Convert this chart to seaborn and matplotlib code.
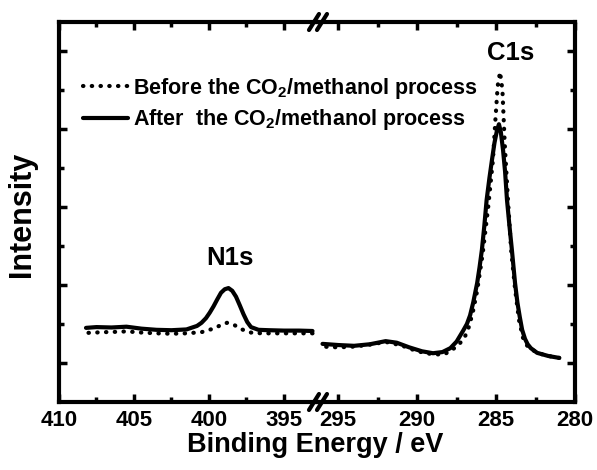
import numpy as np
import pandas as pd
import matplotlib
matplotlib.use("Agg")
import matplotlib.pyplot as plt
from matplotlib.lines import Line2D
from matplotlib.ticker import FixedLocator
import seaborn as sns

# N1s region (left panel), binding energy in eV and intensity (a.u.)
n1s_after_be = [408.2, 407.5, 406.5, 405.5, 404.5, 403.5, 402.5, 401.5, 400.8, 400.5,
                400.2, 399.95, 399.7, 399.45, 399.2, 398.95, 398.7, 398.45, 398.2, 397.95,
                397.7, 397.45, 397.2, 396.7, 396.0, 395.0, 394.0, 393.1]
n1s_after_int = [1.90, 1.92, 1.91, 1.93, 1.88, 1.85, 1.84, 1.86, 1.95, 2.03,
                 2.15, 2.29, 2.45, 2.63, 2.80, 2.89, 2.92, 2.85, 2.70, 2.48,
                 2.25, 2.05, 1.92, 1.85, 1.84, 1.83, 1.83, 1.82]
n1s_before_be = [408.2, 407.0, 406.0, 405.5, 404.5, 403.5, 402.5, 401.5, 400.5, 399.8,
                 399.2, 398.8, 398.3, 397.8, 397.2, 396.5, 395.5, 394.5, 393.1]
n1s_before_int = [1.77, 1.79, 1.80, 1.81, 1.78, 1.76, 1.75, 1.76, 1.79, 1.87,
                  1.97, 2.03, 1.97, 1.86, 1.78, 1.76, 1.76, 1.76, 1.76]

# C1s region (right panel)
c1s_after_be = [296.0, 295.0, 294.0, 293.0, 292.0, 291.3, 290.5, 289.7, 289.0, 288.4,
                287.9, 287.5, 287.1, 286.85, 286.65, 286.45, 286.2, 286.05, 285.9, 285.75,
                285.6, 285.42, 285.26, 285.1, 284.94, 284.82, 284.7, 284.56, 284.43, 284.31,
                284.15, 284.0, 283.8, 283.65, 283.5, 283.35, 283.17, 283.0, 282.8, 282.4,
                281.7, 281.0]
c1s_after_int = [1.49, 1.46, 1.44, 1.48, 1.56, 1.52, 1.40, 1.30, 1.25, 1.28,
                 1.38, 1.55, 1.82, 2.00, 2.22, 2.55, 3.05, 3.45, 3.90, 4.50,
                 5.18, 5.75, 6.21, 6.65, 6.97, 7.12, 6.92, 6.46, 5.90, 5.18,
                 4.50, 3.90, 3.05, 2.55, 2.18, 1.85, 1.62, 1.48, 1.38, 1.26,
                 1.18, 1.13]
c1s_before_be = [296.0, 295.0, 294.0, 293.0, 292.0, 291.0, 290.0, 289.0, 288.3, 287.8,
                 287.3, 286.95, 286.7, 286.45, 286.2, 285.85, 285.5, 285.2, 285.05, 284.9,
                 284.75, 284.6, 284.45, 284.25, 284.05, 283.8, 283.55, 283.3, 283.0, 282.4,
                 281.7, 281.0]
c1s_before_int = [1.42, 1.40, 1.42, 1.47, 1.54, 1.45, 1.30, 1.22, 1.22, 1.33,
                  1.50, 1.70, 1.95, 2.35, 2.85, 3.80, 5.00, 6.20, 7.20, 8.10,
                  8.46, 8.00, 6.60, 5.20, 3.90, 2.90, 2.10, 1.65, 1.42, 1.26,
                  1.18, 1.13]

labels = ['Before the CO$_2$/methanol process', 'After  the CO$_2$/methanol process']
left_ticks = [410, 405, 400, 395]
right_ticks = [295, 290, 285, 280]

sns.set_style('ticks')
plt.rcParams['font.family'] = ['Liberation Sans', 'DejaVu Sans']
plt.rcParams['font.weight'] = 'bold'
plt.rcParams['mathtext.fontset'] = 'custom'
plt.rcParams['mathtext.rm'] = 'Liberation Sans:bold'
plt.rcParams['mathtext.it'] = 'Liberation Sans:bold'
plt.rcParams['mathtext.bf'] = 'Liberation Sans:bold'
plt.rcParams['mathtext.default'] = 'rm'
for k in ('text.color', 'axes.labelcolor', 'xtick.color', 'ytick.color', 'axes.edgecolor'):
    plt.rcParams[k] = 'black'

W, H = 597, 470
fig = plt.figure(figsize=(W / 100, H / 100), dpi=100)
x0, xb, x1 = 59 / W, 317 / W, 575 / W
y0, y1 = 1 - 402 / H, 1 - 22 / H
ax1 = fig.add_axes([x0, y0, xb - x0, y1 - y0])
ax2 = fig.add_axes([xb, y0, x1 - xb, y1 - y0])
ax2.patch.set_visible(False)

dot_style = dict(color='black', linewidth=3, linestyle=(0, (0.1, 2.0)),
                 dash_capstyle='round', solid_capstyle='round')
solid_style = dict(color='black', linewidth=3)

df_n_before = pd.DataFrame({'be': n1s_before_be, 'i': n1s_before_int})
df_n_after = pd.DataFrame({'be': n1s_after_be, 'i': n1s_after_int})
df_c_before = pd.DataFrame({'be': c1s_before_be, 'i': c1s_before_int})
df_c_after = pd.DataFrame({'be': c1s_after_be, 'i': c1s_after_int})

sns.lineplot(data=df_n_before, x='be', y='i', ax=ax1, label=labels[0], **dot_style)
sns.lineplot(data=df_n_after, x='be', y='i', ax=ax1, label=labels[1], **solid_style)
sns.lineplot(data=df_c_before, x='be', y='i', ax=ax2, **dot_style)
sns.lineplot(data=df_c_after, x='be', y='i', ax=ax2, **solid_style)

handles, labs = ax1.get_legend_handles_labels()
ax1.get_legend().remove()

ax1.set_xlim(410, 392.8)
ax2.set_xlim(296.35, 280)
for ax in (ax1, ax2):
    ax.set_ylim(0, 9.74)
    ax.set_xlabel('')
    ax.set_ylabel('')
    for s in ax.spines.values():
        s.set_linewidth(3)
    ax.tick_params(axis='both', which='both', direction='in', width=2.5,
                   top=True, labelsize=16, pad=6)
    ax.tick_params(which='major', length=6)
    ax.tick_params(which='minor', length=3.5)
    ax.yaxis.set_major_locator(FixedLocator([1, 3, 5, 7, 9]))
    ax.yaxis.set_minor_locator(FixedLocator([2, 4, 6, 8]))
    ax.set_yticklabels([])

ax1.spines['right'].set_visible(False)
ax2.spines['left'].set_visible(False)
ax1.tick_params(axis='y', which='both', left=True, right=False)
ax2.tick_params(axis='y', which='both', left=False, right=True)
ax1.xaxis.set_major_locator(FixedLocator(left_ticks))
ax1.xaxis.set_minor_locator(FixedLocator([407.5, 402.5, 397.5]))
ax2.xaxis.set_major_locator(FixedLocator(right_ticks))
ax2.xaxis.set_minor_locator(FixedLocator([292.5, 287.5, 282.5]))

ax1.text(398.6, 3.7, 'N1s', fontsize=18.5, fontweight='bold', ha='center', va='center')
ax2.text(284.1, 8.95, 'C1s', fontsize=18.5, fontweight='bold', ha='center', va='center')

fig.legend(handles, labs, loc='upper left', bbox_to_anchor=(83 / W, 1 - 76 / H),
           frameon=False, fontsize=15.5, handlelength=2.1, handletextpad=0.2,
           labelspacing=0.3, borderpad=0, borderaxespad=0)

fig.text(315 / W, 1 - 445 / H, 'Binding Energy / eV', fontsize=19.5,
         fontweight='bold', ha='center', va='center')
fig.text(22 / W, 1 - 214 / H, 'Intensity', fontsize=22, fontweight='bold',
         ha='center', va='center', rotation=90)

# axis break marks
for yc in (22, 402):
    for dx in (-4, 4):
        cx = 318 + dx
        fig.add_artist(Line2D([(cx - 5) / W, (cx + 5) / W],
                              [1 - (yc + 8) / H, 1 - (yc - 8) / H],
                              transform=fig.transFigure, color='black',
                              linewidth=3, solid_capstyle='round'))

fig.savefig('out.png', dpi=100)
